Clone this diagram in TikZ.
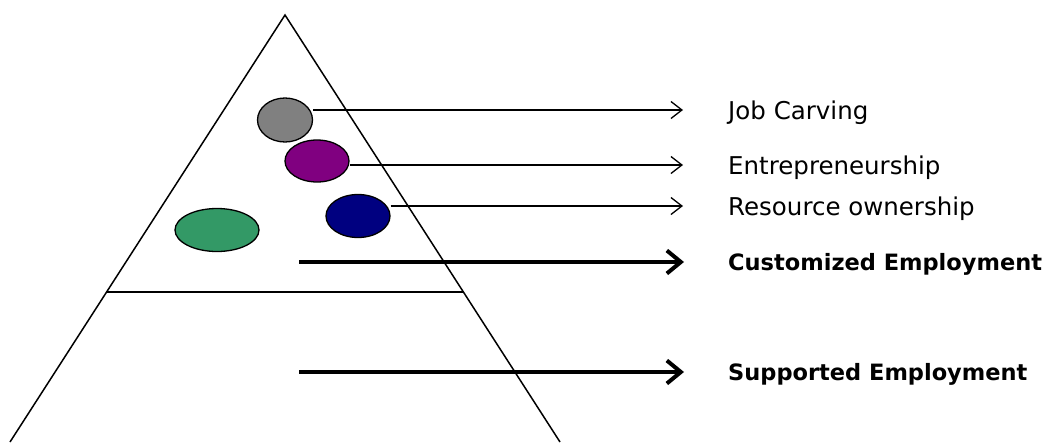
\documentclass[tikz,border=0pt]{standalone}
\usepackage{fontspec}
\setmainfont{DejaVu Sans}
\usepackage{tikz}
\usetikzlibrary{shapes.geometric}
\usetikzlibrary{arrows.meta,calc,positioning}
\definecolor{blobgray}{HTML}{808080}
\definecolor{blobpurple}{HTML}{800080}
\definecolor{blobnavy}{HTML}{000080}
\definecolor{blobgreen}{HTML}{339966}

\begin{document}
\begin{tikzpicture}[x=1pt,y=-1pt,
    blob/.style={ellipse, draw, line width=1.3pt, inner sep=0pt},
    lbl/.style={anchor=west, inner sep=0pt, text height=18pt, text depth=0pt, font=\fontsize{24.5}{29}\selectfont},
    boldlbl/.style={lbl, text height=16pt, font=\fontsize{22.5}{27}\selectfont\bfseries},
    thinarrow/.style={line width=1.3pt, -{Straight Barb[length=11pt,width=17pt]}, shorten >=45pt},
    thickarrow/.style={line width=4pt, -{Straight Barb[length=14pt,width=23pt]}, shorten >=44pt}]

    \useasboundingbox (0,0) rectangle (1052,442);

    % pyramid
    \coordinate (apex) at (285,15);
    \coordinate (bl) at (10,442);
    \coordinate (br) at (560,442);
    \draw[line width=1.5pt] (bl) -- (apex) -- (br);
    \draw[line width=1.5pt] ($(apex)!0.6487!(bl)$) -- ($(apex)!0.6487!(br)$);

    % ellipses
    \node[blob, fill=blobgray, minimum width=55pt, minimum height=44pt] (gray) at (285,120) {};
    \node[blob, fill=blobpurple, minimum width=64pt, minimum height=42pt] (purple) at (317,161) {};
    \node[blob, fill=blobnavy, minimum width=64pt, minimum height=43pt] (navy) at (358,216) {};
    \node[blob, fill=blobgreen, minimum width=84pt, minimum height=43pt] (green) at (217,230) {};

    % labels
    \foreach \e/\n/\y/\t in {gray/job/110/Job Carving, purple/ent/165/Entrepreneurship, navy/res/206/Resource ownership}{
        \node[lbl] (\n) at (728,\y) {\t};
        \draw[thinarrow] (\e.east |- \n) -- (\n.west);
    }

    \node[boldlbl] (cust) at (728,262) {Customized Employment};
    \node[boldlbl] (supp) at (728,372) {Supported Employment};
    \coordinate (cstart) at (299,262);
    \coordinate (sstart) at (299,372);

    \foreach \s/\d in {cstart/cust, sstart/supp}{
        \draw[thickarrow] (\s) -- (\d.west);
    }

\end{tikzpicture}
\end{document}
